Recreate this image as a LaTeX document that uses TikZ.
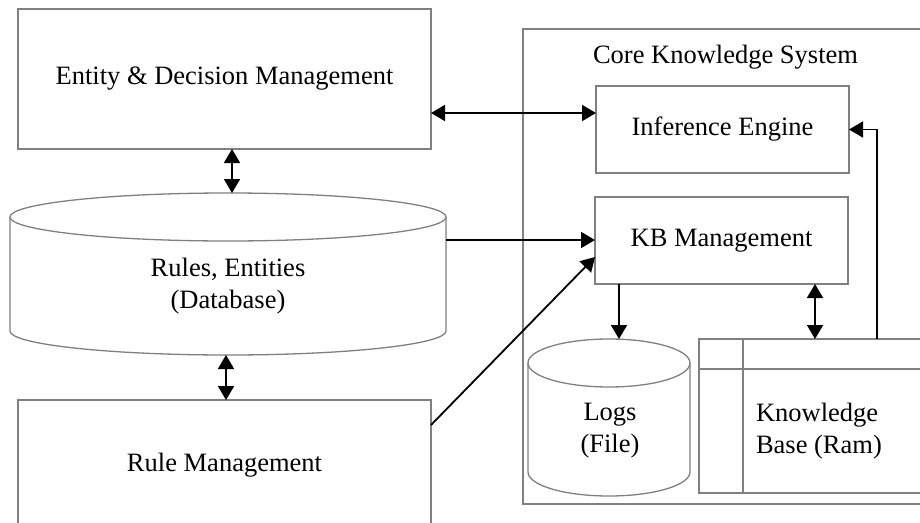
\documentclass[tikz,border=0pt]{standalone}
\usepackage{fontspec}
\setmainfont{Liberation Serif}
\usetikzlibrary{arrows.meta,calc}
\begin{document}
\begin{tikzpicture}[x=1pt,y=-1pt,
  every node/.style={font=\fontsize{26.5}{32}\selectfont, inner sep=0pt, outer sep=0pt},
  boxline/.style={draw=black!50, line width=1.3pt},
  blk/.style={boxline, rectangle},
  area/.style={rectangle},
  link/.style={line width=1.8pt, black, -{Triangle[length=14pt,width=16pt]}},
  dlink/.style={line width=1.8pt, black, {Triangle[length=14pt,width=16pt]}-{Triangle[length=14pt,width=16pt]}}
]
\clip (0,0) rectangle (920,522);
\fill[white] (0,0) rectangle (920,522);

% outer container of the core system
\draw[boxline] (523,29) rectangle (945,504);
\node (title) at (725.5,57) {Core Knowledge System};

% left column
\node[blk, minimum width=413pt, minimum height=140pt] (ent) at (224.5,79) {Entity \& Decision Management};
\node[blk, minimum width=413pt, minimum height=130pt] (rule) at (224.5,465) {Rule Management};

% database cylinder
\draw[boxline] (10,217) -- (10,331) arc[start angle=180, end angle=0, x radius=218, y radius=24] -- (446,217);
\draw[boxline] (228,217) ellipse[x radius=218, y radius=24];
\node[area, minimum width=436pt, minimum height=162pt] (db) at (228,274) {};
\node[align=center] (dbtxt) at (228,286) {Rules, Entities\\(Database)};

% core components
\node[blk, minimum width=253pt, minimum height=87pt] (inf) at (722.5,129.5) {Inference Engine};
\node[blk, minimum width=253pt, minimum height=87pt] (kbm) at (721.5,240.5) {KB Management};

% log file cylinder
\draw[boxline] (528,363) -- (528,472) arc[start angle=180, end angle=0, x radius=81, y radius=24] -- (690,363);
\draw[boxline] (609,363) ellipse[x radius=81, y radius=24];
\node[area, minimum width=162pt, minimum height=156pt] (logs) at (609,417) {};
\node[align=center] (logtxt) at (610,431) {Logs\\(File)};

% in-memory knowledge base
\node[blk, minimum width=246pt, minimum height=154pt] (kb) at (822,416) {};
\draw[boxline] (743,339) -- (743,493);
\draw[boxline] (699,369) -- (945,369);
\node[align=left, anchor=west] (kbtxt) at (756,431) {Knowledge\\Base (Ram)};

% connectors
\draw[dlink] ([yshift=-34pt]ent.east) -- ([yshift=-34pt]ent.east -| inf.west);
\draw[dlink] ([xshift=7.5pt]ent.south) -- ([xshift=4pt]db.north);
\draw[dlink] ([xshift=-2pt]db.south) -- ([xshift=1.5pt]rule.north);
\draw[link] ([yshift=34pt]db.east) -- ([yshift=34pt]db.east -| kbm.west);
\draw[link] ([yshift=-25pt]rule.north east) -- ([yshift=-16.5pt]kbm.west);
\draw[link] ([xshift=-102.5pt]kbm.south) -- ([xshift=-102.5pt]kbm.south |- logs.north);
\draw[dlink] ([xshift=93.5pt]kbm.south) -- ([xshift=93.5pt]kbm.south |- kb.north);
\draw[link] ([xshift=55pt]kb.north) |- (inf.east);
\end{tikzpicture}
\end{document}
